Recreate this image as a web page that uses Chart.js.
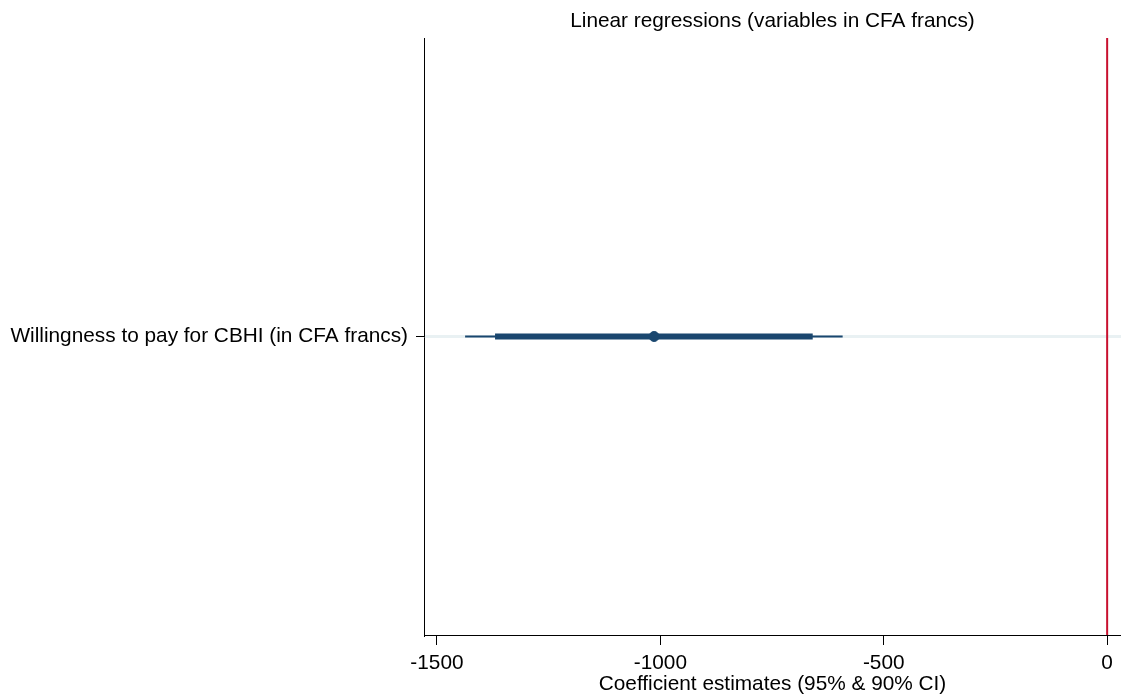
<!DOCTYPE html>
<html>
<head>
<meta charset="utf-8">
<script src="https://cdn.jsdelivr.net/npm/chart.js@4/dist/chart.umd.min.js"></script>
<style>
  html, body { margin: 0; padding: 0; background: #fff; }
  #wrap { width: 1121px; height: 700px; }
</style>
</head>
<body>
<div id="wrap"><canvas id="coef-chart"></canvas></div>
<script>
// coefficient and confidence bounds
const labels = ['Willingness to pay for CBHI (in CFA francs)'];
const estimates = [-1014];
const ci95Low = [-1437];
const ci95High = [-592];
const ci90Low = [-1370];
const ci90High = [-659];
const xTicks = [-1500, -1000, -500, 0];

const navy = '#1a476f';
const font = { family: '"Liberation Sans", Arial, sans-serif', size: 20.8, lineHeight: 1.2 };
Chart.defaults.color = '#000';

// one row per coefficient, placed at y = 1, 2, ...
const rows = labels.map(function(_, i) { return i + 1; });

function segments(lo, hi) {
    const pts = [];
    rows.forEach(function(y, i) {
        pts.push({ x: lo[i], y: y }, { x: hi[i], y: y }, { x: null, y: y });
    });
    return pts;
}

// fixed axis band heights, no side padding so the plot runs to the canvas edge
function fixHeight(h) {
    return function(axis) {
        axis.paddingLeft = 0;
        axis.paddingRight = 0;
        axis.height = h;
    };
}

var ctx = document.getElementById('coef-chart').getContext('2d');
var coefChart = new Chart(ctx, {
    type: 'line',
    data: {
        datasets: [
            {
                label: 'zero',
                data: [{ x: 0, y: 0 }, { x: 0, y: labels.length + 1 }],
                borderColor: '#c8102e',
                borderWidth: 2,
                pointRadius: 0
            },
            {
                label: '95% CI',
                data: segments(ci95Low, ci95High),
                borderColor: navy,
                borderWidth: 2,
                pointRadius: 0,
                spanGaps: false
            },
            {
                label: '90% CI',
                data: segments(ci90Low, ci90High),
                borderColor: navy,
                borderWidth: 6,
                pointRadius: 0,
                spanGaps: false
            },
            {
                type: 'scatter',
                label: 'Estimate',
                data: rows.map(function(y, i) { return { x: estimates[i], y: y }; }),
                backgroundColor: navy,
                borderColor: navy,
                pointRadius: 5
            }
        ]
    },
    options: {
        responsive: true,
        maintainAspectRatio: false,
        animation: false,
        layout: { padding: 0, autoPadding: false },
        plugins: {
            legend: { display: false },
            tooltip: { enabled: false }
        },
        scales: {
            x: {
                type: 'linear',
                min: -1529,
                max: 31,
                afterBuildTicks: function(axis) {
                    axis.ticks = xTicks.map(function(v) { return { value: v }; });
                },
                afterFit: fixHeight(65),
                grid: { drawOnChartArea: false, tickLength: 10, tickColor: '#000' },
                border: { display: true, color: '#000', width: 1 },
                ticks: {
                    font: font,
                    padding: 6,
                    maxRotation: 0,
                    callback: function(v) { return String(v); }
                },
                title: {
                    display: true,
                    text: 'Coefficient estimates (95% & 90% CI)',
                    font: font,
                    padding: { top: 0, bottom: 3 }
                }
            },
            top: {
                type: 'linear',
                position: 'top',
                min: -1529,
                max: 31,
                afterFit: fixHeight(38),
                grid: { display: false, drawTicks: false },
                border: { display: false },
                ticks: { display: false },
                title: {
                    display: true,
                    text: 'Linear regressions (variables in CFA francs)',
                    font: font,
                    padding: { top: 8.5, bottom: 4.5 }
                }
            },
            y: {
                type: 'linear',
                min: 0,
                max: labels.length + 1,
                afterBuildTicks: function(axis) {
                    axis.ticks = rows.map(function(v) { return { value: v }; });
                },
                afterFit: function(axis) {
                    axis.width = 424;
                    axis.paddingTop = 0;
                    axis.paddingBottom = 0;
                },
                grid: { color: '#e9f1f3', lineWidth: 3, tickLength: 8, tickColor: '#000', tickWidth: 1 },
                border: { display: true, color: '#000', width: 1 },
                ticks: {
                    font: font,
                    padding: 8,
                    callback: function(v) { return labels[v - 1] || ''; }
                }
            }
        }
    }
});
</script>
</body>
</html>
